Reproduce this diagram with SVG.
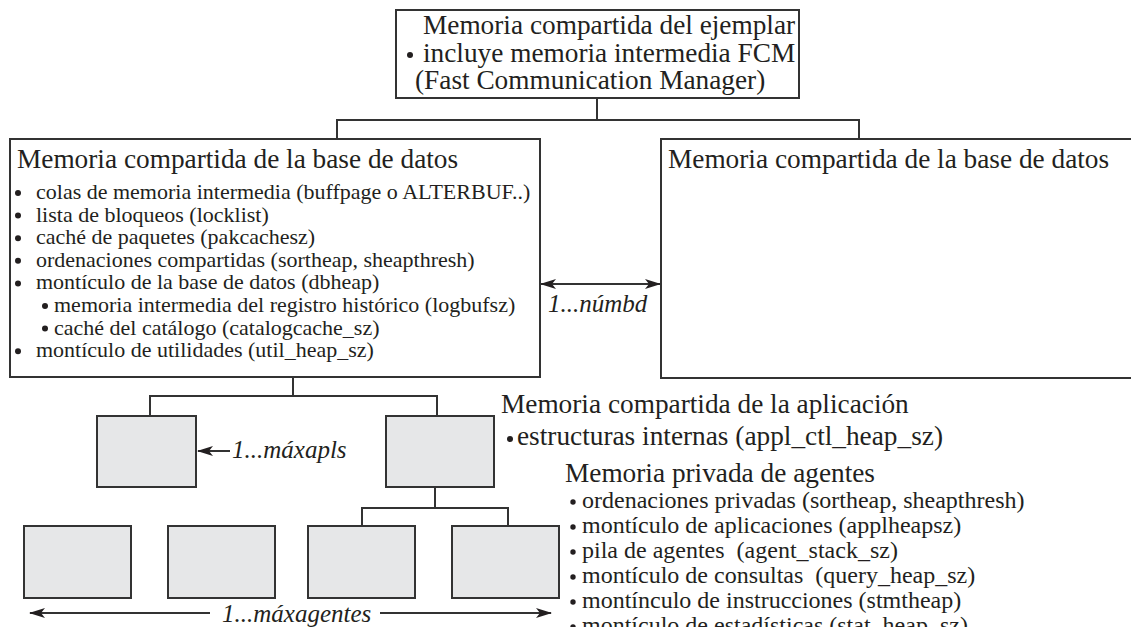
<svg xmlns="http://www.w3.org/2000/svg" width="1131" height="627" viewBox="0 0 1131 627">
<style>
.box{fill:#fff;stroke:#333;stroke-width:2}
.gbox{fill:#e6e7e8;stroke:#333;stroke-width:2}
.ln{fill:none;stroke:#333;stroke-width:2}
.t{font-family:"Liberation Serif",serif;fill:#231f20;white-space:pre}
.h{font-size:27.3px}
.s{font-size:22px}
.a{font-size:24px}
.i{font-family:"Liberation Serif",serif;font-style:italic;font-size:25px;fill:#231f20}
.dot{fill:#231f20}
</style>
<defs>
<marker id="ah" viewBox="0 0 16 10" refX="15" refY="5" markerWidth="16" markerHeight="10" markerUnits="userSpaceOnUse" orient="auto-start-reverse">
<path d="M0,0 L16,5 L0,10 L4,5 z" fill="#231f20"/>
</marker>
</defs>

<g id="connectors">
<path class="ln" d="M597,98 V120 M337,139 V120 H859 V139"/>
<path class="ln" d="M293,377 V396 M150,416 V396 H437 V416"/>
<path class="ln" d="M435,487 V508 M362,526 V508 H508 V526"/>
<line class="ln" x1="541" y1="284" x2="660" y2="284" marker-start="url(#ah)" marker-end="url(#ah)"/>
<line class="ln" x1="230" y1="451" x2="198" y2="451" marker-end="url(#ah)"/>
<line class="ln" x1="210" y1="613" x2="30" y2="613" marker-end="url(#ah)"/>
<line class="ln" x1="380" y1="613" x2="551" y2="613" marker-end="url(#ah)"/>
<text class="i" x="548" y="312">1...númbd</text>
<text class="i" x="232" y="458">1...máxapls</text>
<text class="i" x="222" y="622">1...máxagentes</text>
</g>

<g id="instance">
<rect class="box" x="396" y="10" width="403" height="88"/>
<text class="t h" x="423" y="34">Memoria compartida del ejemplar</text>
<circle class="dot" cx="410" cy="55" r="3"/>
<text class="t h" x="423" y="62">incluye memoria intermedia FCM</text>
<text class="t h" x="415" y="89">(Fast Communication Manager)</text>
</g>

<g id="db1">
<rect class="box" x="10" y="139" width="530" height="238"/>
<text class="t h" x="17" y="168">Memoria compartida de la base de datos</text>
<circle class="dot" cx="18" cy="193" r="3"/>
<text class="t s" x="36" y="199">colas de memoria intermedia (buffpage o ALTERBUF..)</text>
<circle class="dot" cx="18" cy="215.6" r="3"/>
<text class="t s" x="36" y="221.6">lista de bloqueos (locklist)</text>
<circle class="dot" cx="18" cy="238.2" r="3"/>
<text class="t s" x="36" y="244.2">caché de paquetes (pakcachesz)</text>
<circle class="dot" cx="18" cy="260.8" r="3"/>
<text class="t s" x="36" y="266.8">ordenaciones compartidas (sortheap, sheapthresh)</text>
<circle class="dot" cx="18" cy="283.4" r="3"/>
<text class="t s" x="36" y="289.4">montículo de la base de datos (dbheap)</text>
<circle class="dot" cx="45" cy="306" r="3"/>
<text class="t s" x="54" y="312">memoria intermedia del registro histórico (logbufsz)</text>
<circle class="dot" cx="45" cy="328.6" r="3"/>
<text class="t s" x="54" y="334.6">caché del catálogo (catalogcache_sz)</text>
<circle class="dot" cx="18" cy="351.2" r="3"/>
<text class="t s" x="36" y="357.2">montículo de utilidades (util_heap_sz)</text>
</g>

<g id="db2">
<rect class="box" x="661" y="139" width="480" height="239"/>
<text class="t h" x="668" y="168">Memoria compartida de la base de datos</text>
</g>

<g id="app1"><rect class="gbox" x="97" y="416" width="99" height="71"/></g>
<g id="app2"><rect class="gbox" x="386" y="416" width="108" height="71"/></g>
<g id="agent1"><rect class="gbox" x="24" y="526" width="107" height="72"/></g>
<g id="agent2"><rect class="gbox" x="168" y="526" width="107" height="72"/></g>
<g id="agent3"><rect class="gbox" x="308" y="526" width="107" height="72"/></g>
<g id="agent4"><rect class="gbox" x="452" y="526" width="107" height="72"/></g>

<g id="app-label">
<text class="t h" x="501" y="413">Memoria compartida de la aplicación</text>
<circle class="dot" cx="510" cy="439" r="3"/>
<text class="t h" x="517" y="445">estructuras internas (appl_ctl_heap_sz)</text>
</g>

<g id="agent-label">
<text class="t h" x="565" y="482">Memoria privada de agentes</text>
<circle class="dot" cx="573" cy="502" r="2.7"/>
<text class="t a" x="582" y="508">ordenaciones privadas (sortheap, sheapthresh)</text>
<circle class="dot" cx="573" cy="527" r="2.7"/>
<text class="t a" x="582" y="533">montículo de aplicaciones (applheapsz)</text>
<circle class="dot" cx="573" cy="552" r="2.7"/>
<text class="t a" x="582" y="558">pila de agentes  (agent_stack_sz)</text>
<circle class="dot" cx="573" cy="577" r="2.7"/>
<text class="t a" x="582" y="583">montículo de consultas  (query_heap_sz)</text>
<circle class="dot" cx="573" cy="602" r="2.7"/>
<text class="t a" x="582" y="608">montínculo de instrucciones (stmtheap)</text>
<circle class="dot" cx="573" cy="627" r="2.7"/>
<text class="t a" x="582" y="633">montículo de estadísticas (stat_heap_sz)</text>
</g>
</svg>
